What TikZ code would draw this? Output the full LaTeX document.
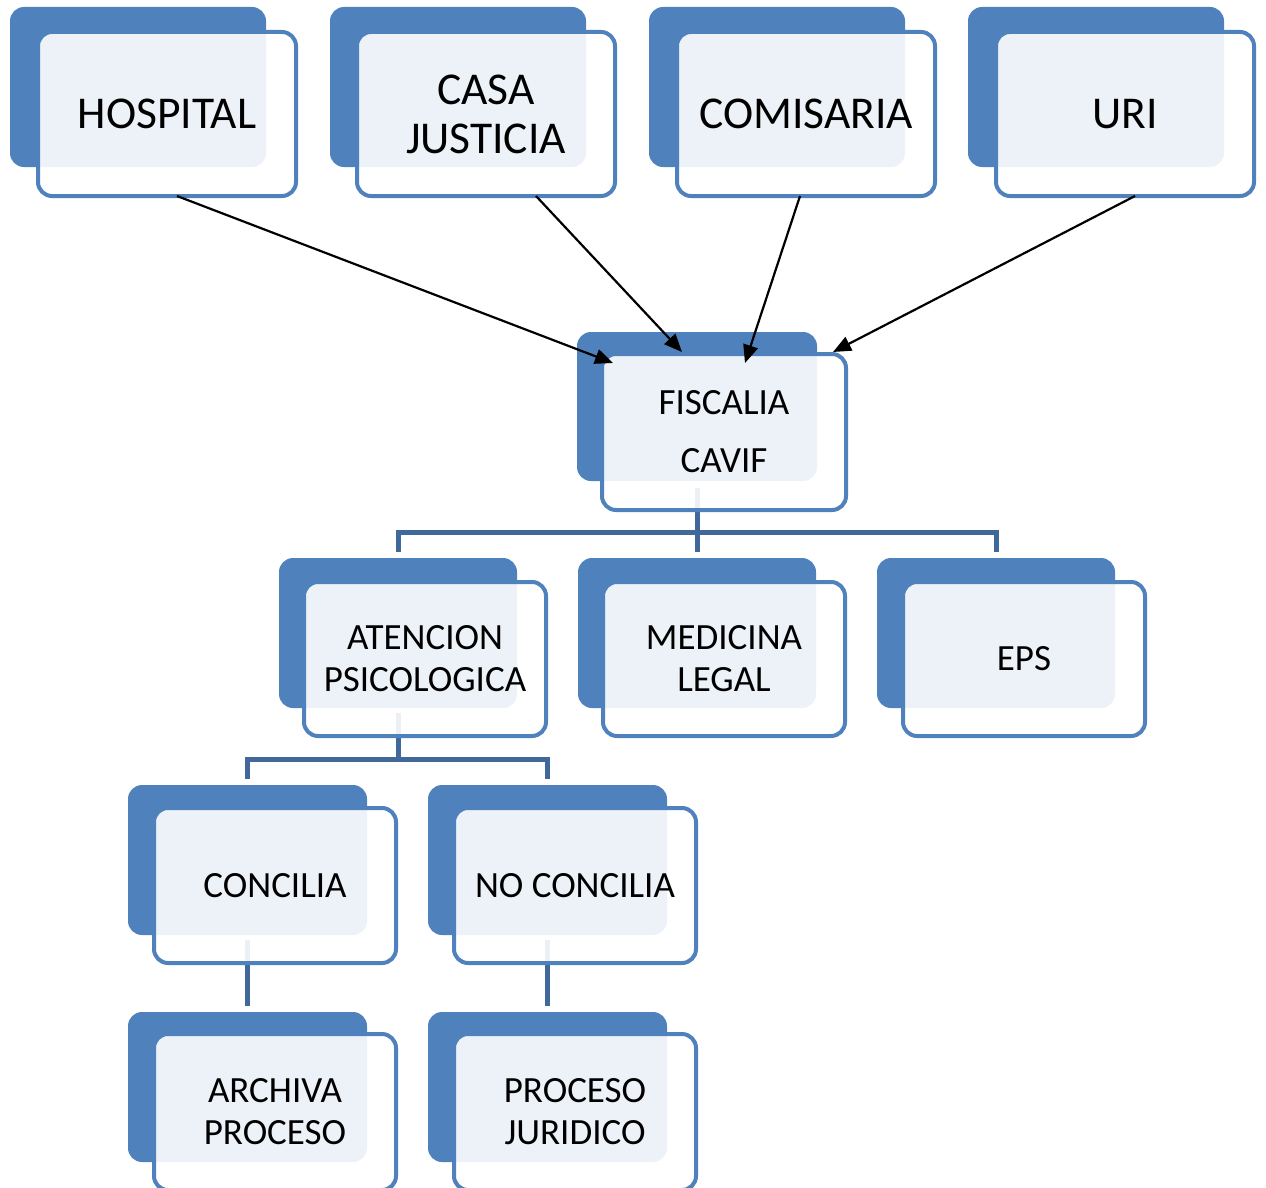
\documentclass[tikz,border=0pt]{standalone}
\usepackage{fontspec}
\setmainfont{Carlito}
\usetikzlibrary{arrows.meta}
\definecolor{boxblue}{HTML}{4F81BD}
\definecolor{treeblue}{HTML}{41689A}
\tikzset{
  backbox/.style={fill=boxblue, rounded corners=14pt, inner sep=0pt, outer sep=0pt, anchor=north west},
  frontbox/.style={draw=boxblue, line width=4pt, fill=white, fill opacity=0.9, draw opacity=1, text opacity=1,
    rounded corners=14pt, inner sep=0pt, outer sep=0pt, anchor=north west, align=center, text=black},
  bigtxt/.style={font=\fontsize{45.5}{49}\selectfont},
  smalltxt/.style={font=\fontsize{37}{42}\selectfont},
  fistxt/.style={font=\fontsize{37}{58}\selectfont},
  tree/.style={draw=treeblue, line width=5pt},
  arr/.style={draw=black, line width=2.2pt, -{Triangle[length=18pt,width=15pt]}},
  topB/.style={backbox, minimum width=256pt, minimum height=160pt},
  topF/.style={frontbox, bigtxt, minimum width=258pt, minimum height=164pt},
  midB/.style={backbox, minimum width=238pt, minimum height=150pt},
  midF/.style={frontbox, smalltxt, minimum width=242pt, minimum height=154pt},
  lowB/.style={backbox, minimum width=239pt, minimum height=150pt},
  lowF/.style={frontbox, smalltxt, minimum width=242pt, minimum height=155pt},
}
\begin{document}
\begin{tikzpicture}[x=1pt,y=-1pt]
\useasboundingbox (0,0) rectangle (1266,1188);
\clip (0,0) rectangle (1266,1188);

% back boxes
\node[topB] (hosB) at (10,7) {};
\node[topB] (casB) at (330,7) {};
\node[topB] (comB) at (649,7) {};
\node[topB] (uriB) at (968,7) {};
\node[backbox, minimum width=240pt, minimum height=149pt] (fisB) at (577,332) {};
\node[midB] (atB) at (279,558) {};
\node[midB] (medB) at (578,558) {};
\node[midB] (epsB) at (877,558) {};
\node[lowB] (conB) at (128,785) {};
\node[lowB] (nocB) at (428,785) {};
\node[lowB] (arcB) at (128,1012) {};
\node[lowB] (jurB) at (428,1012) {};

% tree connectors
\draw[tree] ([yshift=6pt]atB.north) -- ++(0,-20) -| ([yshift=6pt]epsB.north);
\draw[tree] ([yshift=-7pt]fisB.south) -- ([yshift=6pt]medB.north);
\draw[tree] ([yshift=6pt]conB.north) -- ++(0,-20) -| ([yshift=6pt]nocB.north);
\draw[tree] ([yshift=-5pt]atB.south) -- ++(0,46);
\draw[tree] ([yshift=-5pt]conB.south) -- ([yshift=6pt]arcB.north);
\draw[tree] ([yshift=-5pt]nocB.south) -- ([yshift=6pt]jurB.north);

% front boxes
\node[topF] (hosF) at (38,32) {HOSPITAL};
\node[topF] (casF) at (357,32) {CASA\\JUSTICIA};
\node[topF] (comF) at (677,32) {COMISARIA};
\node[topF] (uriF) at (996,32) {URI};
\node[frontbox, fistxt, minimum width=244pt, minimum height=156pt] (fisF) at (602,354) {FISCALIA\\CAVIF};
\node[midF] (atF) at (304,582) {ATENCION\\PSICOLOGICA};
\node[midF] (medF) at (603,582) {MEDICINA\\LEGAL};
\node[midF] (epsF) at (903,582) {EPS};
\node[lowF] (conF) at (154,808) {CONCILIA};
\node[lowF] (nocF) at (454,808) {NO CONCILIA};
\node[lowF, minimum height=156pt] (arcF) at (154,1034) {ARCHIVA\\PROCESO};
\node[lowF, minimum height=156pt] (jurF) at (454,1034) {PROCESO\\JURIDICO};

% arrows
\draw[arr] ([xshift=10pt]hosF.south) -- ([xshift=11pt,yshift=-9pt]fisF.north west);
\draw[arr] ([xshift=50pt]casF.south) -- ([xshift=-42pt,yshift=2pt]fisF.north);
\draw[arr] ([xshift=-6pt]comF.south) -- ([xshift=21pt,yshift=-9pt]fisF.north);
\draw[arr] ([xshift=10pt]uriF.south) -- ([xshift=-13pt,yshift=2pt]fisF.north east);
\end{tikzpicture}
\end{document}
